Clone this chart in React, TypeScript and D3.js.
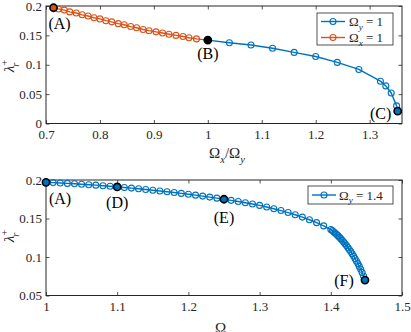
import { useEffect, useRef } from "react";
import * as d3 from "d3";

// ---- top panel: lambda vs Omega_x / Omega_y ----
const omegaXOneX = [
  0.714, 0.723, 0.734, 0.744, 0.756, 0.767, 0.778, 0.789, 0.8, 0.811, 0.822, 0.834, 0.845,
  0.857, 0.868, 0.88, 0.891, 0.904, 0.916, 0.928, 0.941, 0.954, 0.965, 0.979, 1.0,
];
const omegaXOneY = [
  0.197, 0.195, 0.193, 0.19, 0.188, 0.185, 0.183, 0.18, 0.178, 0.175, 0.173, 0.17, 0.168,
  0.165, 0.163, 0.16, 0.158, 0.156, 0.154, 0.152, 0.15, 0.148, 0.146, 0.144, 0.142,
];
const omegaYOneX = [1.0, 1.04, 1.08, 1.12, 1.16, 1.2, 1.24, 1.28, 1.32, 1.33, 1.34, 1.35, 1.352];
const omegaYOneY = [0.142, 0.1375, 0.1335, 0.128, 0.121, 0.114, 0.104, 0.092, 0.072, 0.064, 0.052, 0.03, 0.021];
const topXTicks = [0.7, 0.8, 0.9, 1, 1.1, 1.2, 1.3];
const topYTicks = [0, 0.05, 0.1, 0.15, 0.2];
const topLabels = ["(A)", "(B)", "(C)"];
const topLabelX = [0.714, 1.0, 1.352];
const topLabelY = [0.197, 0.142, 0.021];

// ---- bottom panel: lambda vs Omega_x at Omega_y = 1.4 ----
const omegaY14X = [
  1.0, 1.01, 1.02, 1.03, 1.04, 1.05, 1.06, 1.07, 1.08, 1.09, 1.1, 1.11, 1.12, 1.13, 1.14, 1.15,
  1.16, 1.17, 1.18, 1.19, 1.2, 1.21, 1.22, 1.23, 1.24, 1.25, 1.26, 1.27, 1.28, 1.29, 1.3, 1.31,
  1.32, 1.33, 1.34, 1.35, 1.36, 1.37, 1.38, 1.39, 1.4, 1.402, 1.404, 1.406, 1.408, 1.41, 1.412,
  1.414, 1.416, 1.418, 1.42, 1.422, 1.424, 1.426, 1.428, 1.43, 1.432, 1.434, 1.436, 1.438, 1.44,
  1.442, 1.444, 1.446, 1.448,
];
const omegaY14Y = [
  0.197, 0.1966, 0.1961, 0.1956, 0.1951, 0.1945, 0.1939, 0.1933, 0.1926, 0.1919, 0.1911, 0.1903,
  0.1895, 0.1886, 0.1877, 0.1867, 0.1857, 0.1847, 0.1837, 0.1826, 0.1815, 0.1803, 0.1791, 0.1778,
  0.1764, 0.175, 0.1736, 0.1721, 0.1705, 0.1689, 0.167, 0.165, 0.1627, 0.1603, 0.1577, 0.1549,
  0.1518, 0.1484, 0.1446, 0.1404, 0.1357, 0.1343, 0.1328, 0.1312, 0.1295, 0.1277, 0.1258, 0.1238,
  0.1217, 0.1195, 0.1172, 0.1148, 0.1123, 0.1097, 0.107, 0.1042, 0.1012, 0.0981, 0.0948, 0.0914,
  0.0878, 0.084, 0.0799, 0.0753, 0.07,
];
const bottomXTicks = [1, 1.1, 1.2, 1.3, 1.4, 1.5];
const bottomYTicks = [0.05, 0.1, 0.15, 0.2];
const bottomLabels = ["(A)", "(D)", "(E)", "(F)"];
const bottomLabelX = [1.0, 1.1, 1.25, 1.448];
const bottomLabelY = [0.197, 0.191, 0.175, 0.07];

const BLUE = "#0072BD";
const ORANGE = "#D95319";
const AXIS = "#262626";
const FONT = "Liberation Serif";

type Pt = [number, number];
type Part = { t: string; sub?: boolean; sup?: boolean; it?: boolean; dx?: number };
const zip = (xs: number[], ys: number[]): Pt[] => xs.map((x, i) => [x, ys[i]]);

function drawPanel(
  svg: d3.Selection<SVGSVGElement, unknown, null, undefined>,
  x: d3.ScaleLinear<number, number>,
  y: d3.ScaleLinear<number, number>,
  xTicks: number[],
  yTicks: number[]
) {
  const [x0, x1] = x.range();
  const [y0, y1] = y.range();
  const g = svg.append("g");
  const tick = 3.5;

  const fmt = (d: d3.NumberValue) => String(+d);
  const styleAxis = (a: d3.Selection<SVGGElement, unknown, null, undefined>) => {
    a.attr("font-family", FONT).attr("font-size", 13);
    a.select(".domain").remove();
    a.selectAll("line").attr("stroke", AXIS).attr("stroke-width", 0.8);
    a.selectAll("text").attr("font-family", FONT).attr("font-size", 13).attr("fill", AXIS);
  };

  g.append("g")
    .attr("transform", `translate(0,${y0})`)
    .call(d3.axisBottom(x).tickValues(xTicks).tickSizeInner(-tick).tickSizeOuter(0).tickPadding(6).tickFormat(fmt))
    .call(styleAxis);
  g.append("g")
    .attr("transform", `translate(0,${y1})`)
    .call(d3.axisTop(x).tickValues(xTicks).tickSizeInner(-tick).tickSizeOuter(0).tickFormat(() => ""))
    .call(styleAxis);
  g.append("g")
    .attr("transform", `translate(${x0},0)`)
    .call(d3.axisLeft(y).tickValues(yTicks).tickSizeInner(-tick).tickSizeOuter(0).tickPadding(4).tickFormat(fmt))
    .call(styleAxis);
  g.append("g")
    .attr("transform", `translate(${x1},0)`)
    .call(d3.axisRight(y).tickValues(yTicks).tickSizeInner(-tick).tickSizeOuter(0).tickFormat(() => ""))
    .call(styleAxis);

  g.append("rect")
    .attr("x", x0)
    .attr("y", y1)
    .attr("width", x1 - x0)
    .attr("height", y0 - y1)
    .attr("fill", "none")
    .attr("stroke", AXIS)
    .attr("stroke-width", 1);
}

function drawSeries(
  svg: d3.Selection<SVGSVGElement, unknown, null, undefined>,
  x: d3.ScaleLinear<number, number>,
  y: d3.ScaleLinear<number, number>,
  pts: Pt[],
  color: string
) {
  const line = d3.line<Pt>().x((d) => x(d[0])).y((d) => y(d[1]));
  svg.append("path").attr("d", line(pts)).attr("fill", "none").attr("stroke", color).attr("stroke-width", 1.4);
  svg
    .append("g")
    .selectAll("circle")
    .data(pts)
    .join("circle")
    .attr("cx", (d) => x(d[0]))
    .attr("cy", (d) => y(d[1]))
    .attr("r", 3)
    .attr("fill", "none")
    .attr("stroke", color)
    .attr("stroke-width", 1.1);
}

function labelText(
  parent: d3.Selection<any, unknown, null, undefined>,
  px: number,
  py: number,
  parts: Part[],
  size: number,
  anchor = "start",
  rotate = 0
) {
  const t = parent
    .append("text")
    .attr("x", px)
    .attr("y", py)
    .attr("font-family", FONT)
    .attr("font-size", size)
    .attr("fill", AXIS)
    .attr("text-anchor", anchor);
  if (rotate) t.attr("transform", `rotate(${rotate},${px},${py})`);
  let shift = 0;
  parts.forEach((p) => {
    const target = p.sub ? size * 0.3 : p.sup ? -size * 0.42 : 0;
    const s = t
      .append("tspan")
      .attr("dy", target - shift)
      .attr("font-size", p.sub || p.sup ? size * 0.7 : size)
      .attr("font-style", p.it ? "italic" : "normal")
      .text(p.t);
    if (p.dx) s.attr("dx", p.dx);
    shift = target;
  });
  return t;
}

function Chart() {
  const ref = useRef<SVGSVGElement | null>(null);

  useEffect(() => {
    const el = ref.current;
    if (!el) return;
    el.innerHTML = "";
    const svg = d3.select(el);

    // ---------------- top panel ----------------
    const xT = d3.scaleLinear().domain([0.7, 1.36]).range([46, 402]);
    const yT = d3.scaleLinear().domain([0, 0.2]).range([123.5, 6]);
    drawPanel(svg, xT, yT, topXTicks, topYTicks);
    drawSeries(svg, xT, yT, zip(omegaYOneX, omegaYOneY), BLUE);
    drawSeries(svg, xT, yT, zip(omegaXOneX, omegaXOneY), ORANGE);

    const topFill = [ORANGE, "#000", BLUE];
    const topOff: Pt[] = [[6, 16], [0, 13], [-17, 2]];
    topLabels.forEach((lab, i) => {
      const cx = xT(topLabelX[i]);
      const cy = yT(topLabelY[i]);
      svg.append("circle").attr("cx", cx).attr("cy", cy).attr("r", 3.6)
        .attr("fill", topFill[i]).attr("stroke", "#000").attr("stroke-width", 1.6);
      svg.append("text").attr("x", cx + topOff[i][0]).attr("y", cy + topOff[i][1])
        .attr("text-anchor", "middle").attr("dominant-baseline", "central")
        .attr("font-family", FONT).attr("font-size", 16).attr("fill", "#000").text(lab);
    });

    // legend (top)
    const lg = svg.append("g");
    lg.append("rect").attr("x", 317).attr("y", 13).attr("width", 76).attr("height", 32)
      .attr("fill", "#fff").attr("stroke", AXIS).attr("stroke-width", 0.8);
    [[BLUE, "y", "1"], [ORANGE, "x", "1"]].forEach(([c, s, v], i) => {
      const yy = 21.5 + i * 16;
      lg.append("line").attr("x1", 321).attr("x2", 345).attr("y1", yy).attr("y2", yy)
        .attr("stroke", c).attr("stroke-width", 1.4);
      lg.append("circle").attr("cx", 333).attr("cy", yy).attr("r", 3).attr("fill", "none")
        .attr("stroke", c).attr("stroke-width", 1.1);
      labelText(lg, 349, yy + 4.5, [{ t: "Ω" }, { t: s, sub: true, it: true }, { t: ` = ${v}` }], 13);
    });

    // axis labels (top)
    labelText(svg, 227, 158, [{ t: "Ω" }, { t: "x", sub: true, it: true }, { t: "/Ω" }, { t: "y", sub: true, it: true }], 15, "middle");
    labelText(svg, 14, 66, [{ t: "λ", it: true }, { t: "+", sup: true }, { t: "r", sub: true, it: true, dx: -7 }], 15, "middle", -90);

    // ---------------- bottom panel ----------------
    const xB = d3.scaleLinear().domain([1, 1.5]).range([46, 402]);
    const yB = d3.scaleLinear().domain([0.05, 0.2]).range([295.5, 180]);
    drawPanel(svg, xB, yB, bottomXTicks, bottomYTicks);
    drawSeries(svg, xB, yB, zip(omegaY14X, omegaY14Y), BLUE);

    const botOff: Pt[] = [[14, 16], [0, 16], [0, 18], [-21, 0]];
    bottomLabels.forEach((lab, i) => {
      const cx = xB(bottomLabelX[i]);
      const cy = yB(bottomLabelY[i]);
      svg.append("circle").attr("cx", cx).attr("cy", cy).attr("r", 3.6)
        .attr("fill", BLUE).attr("stroke", "#000").attr("stroke-width", 1.6);
      svg.append("text").attr("x", cx + botOff[i][0]).attr("y", cy + botOff[i][1])
        .attr("text-anchor", "middle").attr("dominant-baseline", "central")
        .attr("font-family", FONT).attr("font-size", 16).attr("fill", "#000").text(lab);
    });

    // legend (bottom)
    const lb = svg.append("g");
    lb.append("rect").attr("x", 308).attr("y", 186).attr("width", 85).attr("height", 18)
      .attr("fill", "#fff").attr("stroke", AXIS).attr("stroke-width", 0.8);
    lb.append("line").attr("x1", 312).attr("x2", 336).attr("y1", 195).attr("y2", 195)
      .attr("stroke", BLUE).attr("stroke-width", 1.4);
    lb.append("circle").attr("cx", 324).attr("cy", 195).attr("r", 3).attr("fill", "none")
      .attr("stroke", BLUE).attr("stroke-width", 1.1);
    labelText(lb, 339, 199.5, [{ t: "Ω" }, { t: "y", sub: true, it: true }, { t: " = 1.4" }], 13);

    // axis labels (bottom)
    labelText(svg, 223, 333, [{ t: "Ω" }, { t: "x", sub: true, it: true }], 15, "middle");
    labelText(svg, 14, 236, [{ t: "λ", it: true }, { t: "+", sup: true }, { t: "r", sub: true, it: true, dx: -7 }], 15, "middle", -90);
  }, []);

  return (
    <svg
      ref={ref}
      width={411}
      height={332}
      style={{ position: "absolute", left: 0, top: 0, background: "#fff", fontFamily: FONT }}
    />
  );
}

export default function App() {
  return <Chart />;
}
